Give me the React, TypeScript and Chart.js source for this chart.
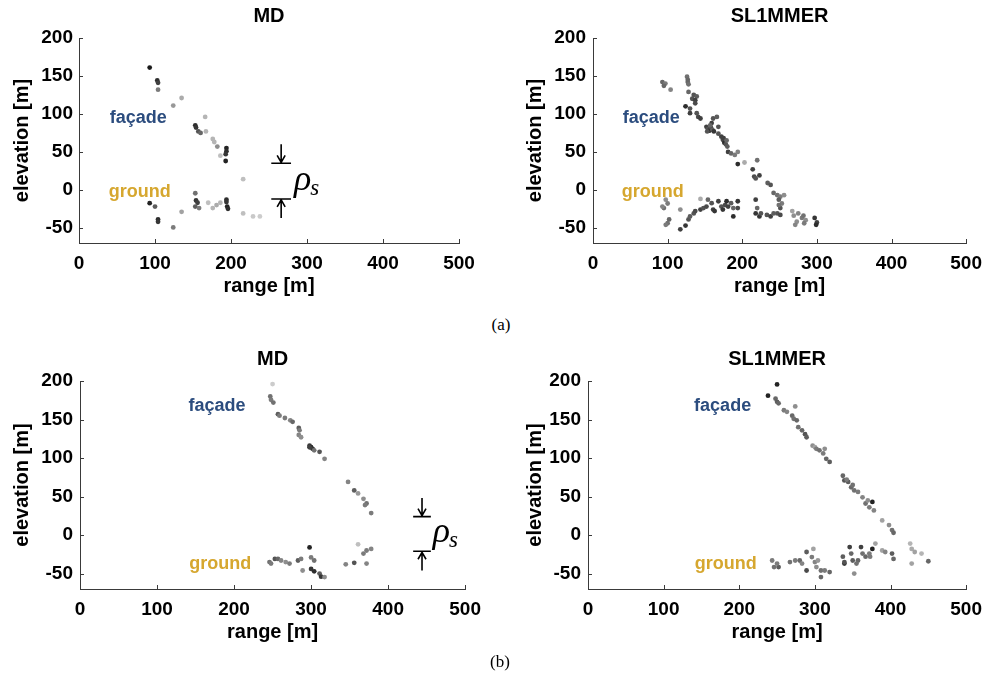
import React, { useEffect, useRef } from 'react';
import { Chart, registerables } from 'chart.js';
Chart.register(...registerables);

// ---------- tick labels ----------
const xTicks = [0, 100, 200, 300, 400, 500];
const yTicks = [-50, 0, 50, 100, 150, 200];

// ---------- (a) MD ----------
const aMdRange = [93, 103, 104, 104, 124, 135, 153, 154, 157, 160, 166, 167, 176, 178, 182, 186, 194, 194, 193, 193, 216,
  93, 100, 104, 104, 124, 135, 153, 154, 156, 153, 158, 170, 176, 181, 186, 194, 194, 195, 196, 216, 229, 238];
const aMdElev = [161, 144, 141, 132, 111, 121, 85, 82, 77, 75, 96, 77, 67, 63, 57, 45, 55, 51, 47, 38, 14,
  -17.5, -22, -39, -42, -49.5, -29, -4.5, -14, -17, -22, -24, -17, -24, -20, -17, -13, -16, -22, -25, -31, -35, -35];
const aMdShade = [0, 0.1, 0.2, 0.5, 0.65, 0.75, 0.1, 0.15, 0.3, 0.4, 0.8, 0.8, 0.8, 0.8, 0.6, 0.85, 0.05, 0.1, 0.15, 0.05, 0.85,
  0.05, 0.35, 0.1, 0.15, 0.5, 0.7, 0.45, 0.15, 0.2, 0.35, 0.5, 0.85, 0.8, 0.75, 0.8, 0.1, 0.15, 0.05, 0.1, 0.85, 0.9, 0.92];

// ---------- (a) SL1MMER ----------
const aSlRange = [93, 97, 95, 104, 126, 127, 127, 128, 128, 135, 139, 133, 137, 137, 124, 130, 130, 139, 141, 144,
  161, 166, 168, 159, 152, 154, 156, 158, 160, 162, 157, 153, 168, 172, 174, 176, 178, 180, 175, 179,
  181, 185, 190, 194, 194, 203, 214, 216, 218, 223, 220, 234, 238, 242, 247, 251, 256, 249, 253, 247,
  267, 269, 275, 280, 282, 273, 271, 297, 300, 299, 285, 283,
  97.5, 100, 95, 93, 102, 100, 97.5, 117, 117, 124, 128, 130, 135, 137, 144, 144, 148, 152, 154, 159, 161, 163,
  168, 172, 174, 177, 179, 181, 185, 188, 194, 194, 188, 218, 220, 223, 225, 218, 233, 238, 242, 251, 251, 249];
const aSlElev = [142, 140, 137, 132, 149, 145, 142, 139, 129, 125, 123, 120, 118, 114, 110, 107, 101, 101, 96, 94,
  94, 96, 83, 88, 83, 80, 78, 82, 79, 77, 85, 77, 74, 70, 66, 62, 60, 57, 68, 65,
  50, 48, 46, 50, 34, 36, 27, 17.5, 15, 19, 39, 9, 6.5, -4, -7, -9, -7, -13, -18, -31,
  -28, -34, -31, -37, -34, -42, -46, -37, -43, -46, -40, -44,
  -13, -18, -24, -22, -39, -44, -46, -26, -52, -47, -39, -35, -31, -28, -12, -26, -24, -22, -13, -17.5, -26, -28,
  -15, -22, -26, -20, -15, -22, -17.5, -24, -15, -24, -35, -13, -24, -35, -31, -31, -33, -35, -31, -33, -24, -20];
const aSlShade = [0.4, 0.5, 0.4, 0.55, 0.45, 0.4, 0.4, 0.45, 0.4, 0.3, 0.35, 0.3, 0.2, 0.25, 0.1, 0.3, 0.2, 0.3, 0.25, 0.2,
  0.3, 0.35, 0.3, 0.2, 0.2, 0.3, 0.1, 0.25, 0.35, 0.15, 0.4, 0.3, 0.3, 0.2, 0.25, 0.1, 0.3, 0.35, 0.2, 0.4,
  0.2, 0.4, 0.5, 0.55, 0.1, 0.75, 0.2, 0.25, 0.3, 0.2, 0.45, 0.35, 0.3, 0.4, 0.45, 0.5, 0.6, 0.35, 0.5, 0.3,
  0.7, 0.6, 0.55, 0.5, 0.45, 0.6, 0.55, 0.15, 0.2, 0.1, 0.6, 0.5,
  0.6, 0.5, 0.45, 0.55, 0.4, 0.45, 0.5, 0.6, 0.2, 0.15, 0.3, 0.35, 0.3, 0.25, 0.75, 0.2, 0.3, 0.25, 0.4, 0.3, 0.2, 0.15,
  0.2, 0.3, 0.15, 0.25, 0.1, 0.2, 0.35, 0.4, 0.15, 0.25, 0.1, 0.2, 0.4, 0.15, 0.3, 0.15, 0.3, 0.2, 0.35, 0.25, 0.3, 0.45];

// ---------- (b) MD ----------
const bMdRange = [250, 247, 248, 251, 257, 259, 266, 273, 276, 284, 285, 284, 287, 298, 300, 302, 298, 304, 311, 317.5,
  348, 356, 361, 368, 372, 370, 378,
  246, 248, 253, 257, 261, 267, 272, 283, 287, 289, 298, 300, 304, 300, 304, 311, 313, 317.5, 345, 356, 361, 368, 372, 378, 372];
const bMdElev = [196, 180, 175.6, 172, 157, 155, 152, 149, 147, 139, 136, 130, 127, 116, 114, 112, 114, 110, 108, 99,
  69, 58, 54, 47, 41, 39, 28.5,
  -35, -37, -31, -31, -33, -35, -37, -33, -31, -46, -16, -29, -33, -44, -47, -50, -54, -54.5, -38, -36, -12, -24, -20, -18, -37];
const bMdShade = [0.92, 0.45, 0.5, 0.45, 0.35, 0.5, 0.5, 0.55, 0.4, 0.35, 0.5, 0.55, 0.6, 0.15, 0.05, 0.15, 0.2, 0.45, 0.3, 0.55,
  0.55, 0.35, 0.65, 0.6, 0.45, 0.5, 0.5,
  0.45, 0.5, 0.3, 0.4, 0.55, 0.6, 0.5, 0.35, 0.5, 0.6, 0.05, 0.5, 0.45, 0.15, 0.1, 0.35, 0.15, 0.6, 0.55, 0.3, 0.85, 0.5, 0.5, 0.55, 0.55];

// ---------- (b) SL1MMER ----------
const bSlRange = [250, 238, 248, 250, 252, 259, 263, 274, 270, 272, 276, 278, 283, 287, 289, 297, 300, 302, 306, 311, 315, 319.5, 313,
  337, 339, 344, 348, 352, 357, 363, 367, 372, 376, 378, 389, 398, 402, 404, 342, 350, 370,
  243.5, 246, 252, 250, 267, 274, 280, 283, 289, 289, 296, 298, 300, 302, 308, 313, 319.5, 308, 304,
  337, 339, 346, 348, 350, 352, 357, 361, 363, 367, 372, 376, 380, 389, 393, 402, 404, 426, 428, 432, 428, 441, 450, 339, 355, 373];
const bSlElev = [195.5, 181, 177, 173, 171, 162, 160, 167, 155, 151, 149, 140, 136, 131, 127, 116, 114, 112, 110, 106, 99, 95, 112,
  77, 71, 69, 62, 58, 56, 49, 41, 36, 43, 32, 19, 13, 6.5, 3, 72, 65, 45,
  -33, -41.5, -41.5, -37, -35, -33, -33, -37, -22, -46, -28.5, -18, -35, -41.5, -46, -46, -48, -54.5, -33,
  -28, -37, -15.6, -24, -33, -50, -33, -15.6, -24, -28, -24, -18, -11, -20, -22, -24, -31, -11, -18, -22, -37, -24, -34, -35, -37, -28];
const bSlShade = [0.05, 0.05, 0.4, 0.35, 0.4, 0.5, 0.55, 0.6, 0.4, 0.45, 0.4, 0.45, 0.4, 0.3, 0.35, 0.6, 0.7, 0.5, 0.45, 0.5, 0.4, 0.35, 0.6,
  0.4, 0.3, 0.35, 0.4, 0.45, 0.5, 0.55, 0.45, 0.5, 0.05, 0.55, 0.7, 0.6, 0.45, 0.4, 0.5, 0.45, 0.6,
  0.5, 0.45, 0.35, 0.5, 0.45, 0.5, 0.4, 0.55, 0.35, 0.25, 0.5, 0.7, 0.55, 0.6, 0.45, 0.5, 0.4, 0.4, 0.65,
  0.35, 0.15, 0.2, 0.4, 0.35, 0.6, 0.4, 0.2, 0.45, 0.4, 0.5, 0.05, 0.7, 0.7, 0.55, 0.35, 0.4, 0.8, 0.75, 0.7, 0.7, 0.8, 0.4, 0.3, 0.45, 0.5];

// ---------- annotations (data units) ----------
const aFacadeAt = [78, 94];
const aGroundAt = [80, -3];
const bFacadeAt = [178, 168];
const bGroundAt = [182, -38];
// [x, topArrowStart, topBar, bottomBar, bottomArrowStart, barHalfWidth, rhoX, rhoY]
const aRho = [266, 60, 35, -12, -37, 13, 283, 0];
const bRho = [444, 48, 24, -21, -46, 11.5, 458, -9];

const SANS = '"Liberation Sans", Arial, Helvetica, sans-serif';
const SERIF = '"Liberation Serif", "Times New Roman", serif';
const AXIS = '#3a3a3a';
const FACADE = '#2b4c7e';
const GROUND = '#d6a72f';

const shadeColor = (s: number) => {
  const g = Math.round(25 + s * 195);
  return `rgb(${g},${g},${g})`;
};

type Spec = {
  title: string;
  xs: number[]; ys: number[]; shades: number[];
  facade: number[]; ground: number[];
  rho?: number[];
  left: number; top: number; w: number; h: number;
  yW: number; padTop: number; padRight: number; padBottom: number;
  yTitlePad: number; yTickPad: number;
};

function Panel({ spec }: { spec: Spec }) {
  const ref = useRef<HTMLCanvasElement>(null);
  useEffect(() => {
    const overlay = {
      id: 'overlay',
      afterDraw(chart: any) {
        const { ctx, chartArea } = chart;
        const xs = chart.scales.x;
        const ys = chart.scales.y;
        ctx.save();
        // inward ticks
        ctx.strokeStyle = AXIS;
        ctx.lineWidth = 1;
        ctx.beginPath();
        xTicks.forEach((v) => {
          const px = Math.round(xs.getPixelForValue(v)) + 0.5;
          ctx.moveTo(px, chartArea.bottom);
          ctx.lineTo(px, chartArea.bottom - 4);
        });
        yTicks.forEach((v) => {
          const py = Math.round(ys.getPixelForValue(v)) + 0.5;
          ctx.moveTo(chartArea.left, py);
          ctx.lineTo(chartArea.left + 4, py);
        });
        ctx.stroke();
        // title
        ctx.fillStyle = '#000';
        ctx.font = `bold 20px ${SANS}`;
        ctx.textAlign = 'center';
        ctx.textBaseline = 'middle';
        ctx.fillText(spec.title, (chartArea.left + chartArea.right) / 2, chartArea.top - 22);
        // labels
        ctx.font = `bold 18px ${SANS}`;
        ctx.fillStyle = FACADE;
        ctx.fillText('façade', xs.getPixelForValue(spec.facade[0]), ys.getPixelForValue(spec.facade[1]));
        ctx.fillStyle = GROUND;
        ctx.fillText('ground', xs.getPixelForValue(spec.ground[0]), ys.getPixelForValue(spec.ground[1]));
        // rho annotation
        if (spec.rho) {
          const r = spec.rho;
          const ax = xs.getPixelForValue(r[0]);
          const hw = xs.getPixelForValue(r[0] + r[5]) - ax;
          const t0 = ys.getPixelForValue(r[1]);
          const t1 = ys.getPixelForValue(r[2]);
          const b1 = ys.getPixelForValue(r[3]);
          const b0 = ys.getPixelForValue(r[4]);
          ctx.strokeStyle = '#000';
          ctx.lineWidth = 1.6;
          ctx.beginPath();
          ctx.moveTo(ax, t0); ctx.lineTo(ax, t1);
          ctx.moveTo(ax - 4, t1 - 8); ctx.lineTo(ax, t1 - 1); ctx.lineTo(ax + 4, t1 - 8);
          ctx.moveTo(ax - hw, t1); ctx.lineTo(ax + hw, t1);
          ctx.moveTo(ax, b0); ctx.lineTo(ax, b1);
          ctx.moveTo(ax - 4, b1 + 8); ctx.lineTo(ax, b1 + 1); ctx.lineTo(ax + 4, b1 + 8);
          ctx.moveTo(ax - hw, b1); ctx.lineTo(ax + hw, b1);
          ctx.stroke();
          const rx = xs.getPixelForValue(r[6]);
          const ry = ys.getPixelForValue(r[7]);
          ctx.fillStyle = '#000';
          ctx.textAlign = 'left';
          ctx.textBaseline = 'alphabetic';
          ctx.font = `italic 36px ${SERIF}`;
          ctx.fillText('ρ', rx, ry);
          const w = ctx.measureText('ρ').width;
          ctx.font = `italic 23px ${SERIF}`;
          ctx.fillText('s', rx + w - 1, ry + 5);
        }
        ctx.restore();
      },
    };

    const chart = new Chart(ref.current!, {
      type: 'scatter',
      data: {
        datasets: [{
          data: spec.xs.map((x, i) => ({ x, y: spec.ys[i] })),
          backgroundColor: spec.shades.map(shadeColor),
          borderWidth: 0,
          pointRadius: 2.4,
          pointHoverRadius: 2.4,
          showLine: false,
        }],
      },
      options: {
        responsive: false,
        animation: false,
        events: [],
        layout: { padding: { left: 0, top: spec.padTop, right: spec.padRight, bottom: spec.padBottom } },
        plugins: { legend: { display: false }, tooltip: { enabled: false }, title: { display: false } },
        scales: {
          x: {
            type: 'linear', min: 0, max: 500,
            afterBuildTicks: (s: any) => { s.ticks = xTicks.map((v) => ({ value: v })); },
            afterFit: (s: any) => { s.height = 55; },
            grid: { display: false, drawTicks: false },
            border: { display: true, color: AXIS, width: 1 },
            ticks: { padding: 9, color: '#000', autoSkip: false, maxRotation: 0, font: { family: SANS, size: 19, weight: 'bold' } },
            title: { display: true, text: 'range [m]', color: '#000', padding: { top: 0, bottom: 0 }, font: { family: SANS, size: 20, weight: 'bold' } },
          },
          y: {
            type: 'linear', min: -70, max: 200,
            afterBuildTicks: (s: any) => { s.ticks = yTicks.map((v) => ({ value: v })); },
            afterFit: (s: any) => { s.width = spec.yW; },
            grid: { display: false, drawTicks: false },
            border: { display: true, color: AXIS, width: 1 },
            ticks: { padding: spec.yTickPad, color: '#000', autoSkip: false, font: { family: SANS, size: 19, weight: 'bold' } },
            title: { display: true, text: 'elevation [m]', color: '#000', padding: { top: spec.yTitlePad, bottom: 0 }, font: { family: SANS, size: 20, weight: 'bold' } },
          },
        },
      } as any,
      plugins: [overlay],
    });
    return () => chart.destroy();
  }, [spec]);
  return (
    <canvas
      ref={ref}
      width={spec.w}
      height={spec.h}
      style={{ position: 'absolute', left: spec.left, top: spec.top, width: spec.w, height: spec.h }}
    />
  );
}

const specs: Spec[] = [
  { title: 'MD', xs: aMdRange, ys: aMdElev, shades: aMdShade, facade: aFacadeAt, ground: aGroundAt, rho: aRho,
    left: 0, top: 0, w: 490, h: 310, yW: 79, padTop: 38, padRight: 31, padBottom: 12, yTitlePad: 10, yTickPad: 6 },
  { title: 'SL1MMER', xs: aSlRange, ys: aSlElev, shades: aSlShade, facade: aFacadeAt, ground: aGroundAt,
    left: 500, top: 0, w: 491, h: 310, yW: 93, padTop: 38, padRight: 19, padBottom: 12, yTitlePad: 23, yTickPad: 7 },
  { title: 'MD', xs: bMdRange, ys: bMdElev, shades: bMdShade, facade: bFacadeAt, ground: bGroundAt, rho: bRho,
    left: 0, top: 340, w: 490, h: 336, yW: 80, padTop: 41, padRight: 24, padBottom: 32, yTitlePad: 10, yTickPad: 7 },
  { title: 'SL1MMER', xs: bSlRange, ys: bSlElev, shades: bSlShade, facade: bFacadeAt, ground: bGroundAt,
    left: 500, top: 340, w: 491, h: 336, yW: 88, padTop: 41, padRight: 19, padBottom: 32, yTitlePad: 23, yTickPad: 7 },
];

export default function App() {
  const cap: React.CSSProperties = {
    position: 'absolute', transform: 'translate(-50%, -50%)', fontFamily: SERIF, fontSize: 17, color: '#000', whiteSpace: 'nowrap',
  };
  return (
    <div style={{ position: 'absolute', left: 0, top: 0, width: 991, height: 676, background: '#fff', overflow: 'hidden' }}>
      {specs.map((s, i) => <Panel key={i} spec={s} />)}
      <div style={{ ...cap, left: 501, top: 325 }}>(a)</div>
      <div style={{ ...cap, left: 500, top: 662 }}>(b)</div>
    </div>
  );
}
